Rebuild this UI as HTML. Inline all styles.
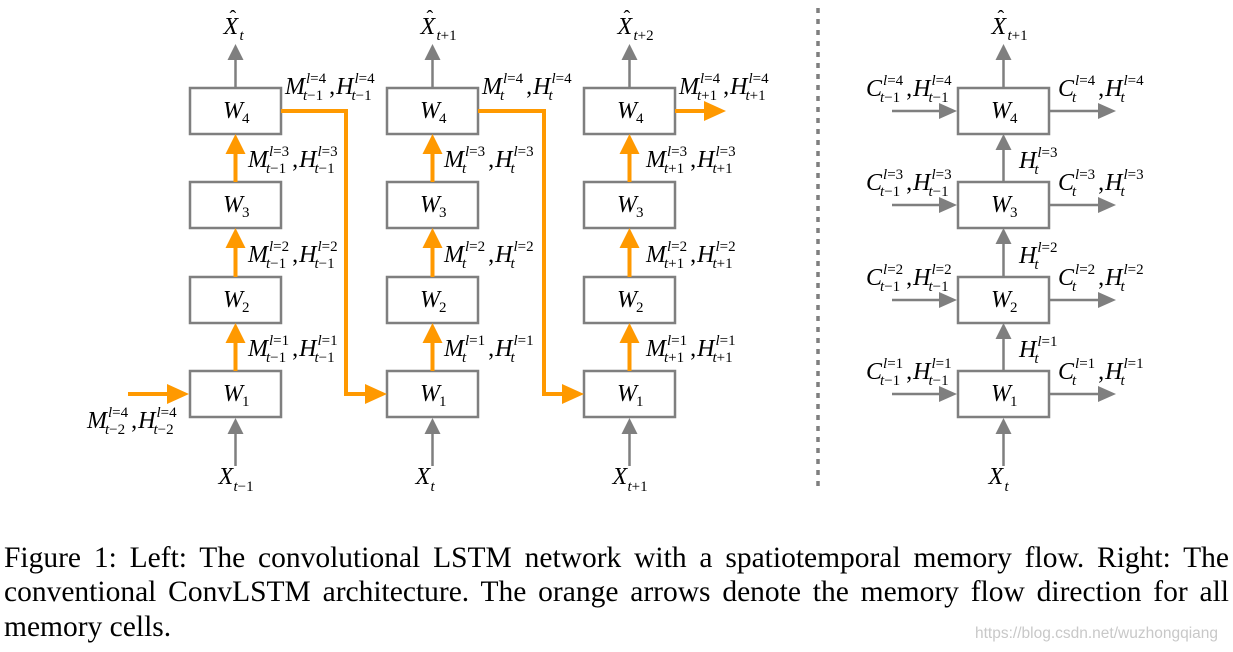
<!DOCTYPE html>
<html><head><meta charset="utf-8"><style>
html,body{margin:0;padding:0;background:#fff;width:1233px;height:652px;overflow:hidden}
svg{position:absolute;left:0;top:0}
.cl{position:absolute;left:4px;width:1225px;font-family:"Liberation Serif",serif;font-size:29.5px;line-height:34px;color:#000;white-space:nowrap}
.j{text-align:justify;text-align-last:justify;white-space:normal}
#wm{position:absolute;left:975px;top:625px;font-family:"Liberation Sans",sans-serif;font-size:15.5px;color:#c8c8c8}
</style></head><body>
<svg id="s" width="1233" height="540" xmlns="http://www.w3.org/2000/svg" font-family="Liberation Serif, serif"></svg>
<div class="cl j" style="top:541px">Figure 1: Left: The convolutional LSTM network with a spatiotemporal memory flow. Right: The</div>
<div class="cl j" style="top:575px">conventional ConvLSTM architecture. The orange arrows denote the memory flow direction for all</div>
<div class="cl" style="top:610px">memory cells.</div>
<div id="wm">https://blog.csdn.net/wuzhongqiang</div>
<script>
var S=document.getElementById('s'),NS='http://www.w3.org/2000/svg';
function el(n,a,p){var e=document.createElementNS(NS,n);for(var k in a)e.setAttribute(k,a[k]);(p||S).appendChild(e);return e;}
var OR='#ff9900',GR='#7f7f7f';
function T(x,y,s,sz,it){var t=el('text',{x:x,y:y,'font-size':sz,'font-style':it?'italic':'normal',fill:'#000'});t.textContent=s;return t;}
function ST(x,y,parts,sz){var t=el('text',{x:x,y:y,'font-size':sz,fill:'#000'});parts.forEach(function(p){var s=el('tspan',{'font-style':p[1]?'italic':'normal'},t);s.textContent=p[0];});return t.getComputedTextLength();}
function sym(x,y,m,sup,sub){var t=T(x,y,m,24,true);var w=t.getComputedTextLength();var w1=0,w2=0;
 if(sup)w1=ST(x+w+1,y-11,sup,15);if(sub)w2=ST(x+w-2,y+6,sub,15);return x+w+Math.max(w1+1,w2-2);}
function L(x,y,m1,m2,sup,sub){var nx=sym(x,y,m1,sup,sub);T(nx+3,y,',',24,false);sym(nx+10,y,m2,sup,sub);}
function lv(n){return [['l',1],['='+n,0]];}
var tm1=[['t',1],['−1',0]],tm2=[['t',1],['−2',0]],tp1=[['t',1],['+1',0]],tt=[['t',1]];
function box(x,y,n){el('rect',{x:x,y:y,width:91,height:46,fill:'#fff',stroke:GR,'stroke-width':2.5});T(x+33,y+30,'W',24,true);ST(x+52,y+35,[[n,0]],15);}
function upG(x,y1,y2){el('line',{x1:x,y1:y1,x2:x,y2:y2+14,stroke:GR,'stroke-width':2.5});el('polygon',{points:(x-8)+','+(y2+16)+' '+(x+8)+','+(y2+16)+' '+x+','+y2,fill:GR});}
function rtG(x1,x2,y){el('line',{x1:x1,y1:y,x2:x2-14,y2:y,stroke:GR,'stroke-width':2.5});el('polygon',{points:(x2-18)+','+(y-8)+' '+(x2-18)+','+(y+8)+' '+x2+','+y,fill:GR});}
function upO(x,y1,y2){el('line',{x1:x,y1:y1,x2:x,y2:y2+14,stroke:OR,'stroke-width':4});el('polygon',{points:(x-10)+','+(y2+20)+' '+(x+10)+','+(y2+20)+' '+x+','+y2,fill:OR});}
function rtOhead(x2,y){el('polygon',{points:(x2-22)+','+(y-10)+' '+(x2-22)+','+(y+10)+' '+x2+','+y,fill:OR});}
function hatX(cx,s){T(cx-12,34,'X',24,true);T(cx-6,24,'ˆ',20,false);ST(cx+4,40,s,15);}
var rows=[371,277,182,88];
var cols=[190,387,584];
var subs=[tm1,tt,tp1];
var hatS=[tt,tp1,[['t',1],['+2',0]]];
cols.forEach(function(cx,c){
 var mx=cx+45.5;
 for(var i=0;i<4;i++)box(cx,rows[i],i+1);
 for(var i=0;i<3;i++){upO(mx,rows[i],rows[i+1]+46);L(c==0?cx+58:(c==1?cx+57:cx+62),rows[i]-15,'M','H',lv(i+1),subs[c]);}
 upG(mx,466,418);
 T(mx-17,484,'X',24,true);ST(mx-2,491,subs[c],15);
 upG(mx,88,44);
 hatX(mx,hatS[c]);
 L(cx+95,94,'M','H',lv(4),subs[c]);
});
el('polyline',{points:'281,111 346,111 346,394 366,394',fill:'none',stroke:OR,'stroke-width':4});rtOhead(387,394);
el('polyline',{points:'478,111 544,111 544,394 563,394',fill:'none',stroke:OR,'stroke-width':4});rtOhead(584,394);
el('line',{x1:675,y1:111,x2:705,y2:111,stroke:OR,'stroke-width':4});rtOhead(726,111);
el('line',{x1:128,y1:394,x2:168,y2:394,stroke:OR,'stroke-width':4});rtOhead(189,394);
L(87,428,'M','H',lv(4),tm2);
el('line',{x1:818,y1:8,x2:818,y2:492,stroke:GR,'stroke-width':3.5,'stroke-dasharray':'5,6'});
var rx=958,rm=1003.5;
for(var i=0;i<4;i++){box(rx,rows[i],i+1);rtG(892,957,rows[i]+23);rtG(1049,1116,rows[i]+23);
 L(866,rows[i]+8,'C','H',lv(i+1),tm1);L(1058,rows[i]+8,'C','H',lv(i+1),tt);}
for(var i=0;i<3;i++){upG(rm,rows[i],rows[i+1]+46);sym(1019,rows[i]-14,'H',lv(i+1),tt);}
upG(rm,466,418);T(rm-15,484,'X',24,true);ST(rm+1,491,tt,15);
upG(rm,88,44);hatX(rm,tp1);
</script>
</body></html>
